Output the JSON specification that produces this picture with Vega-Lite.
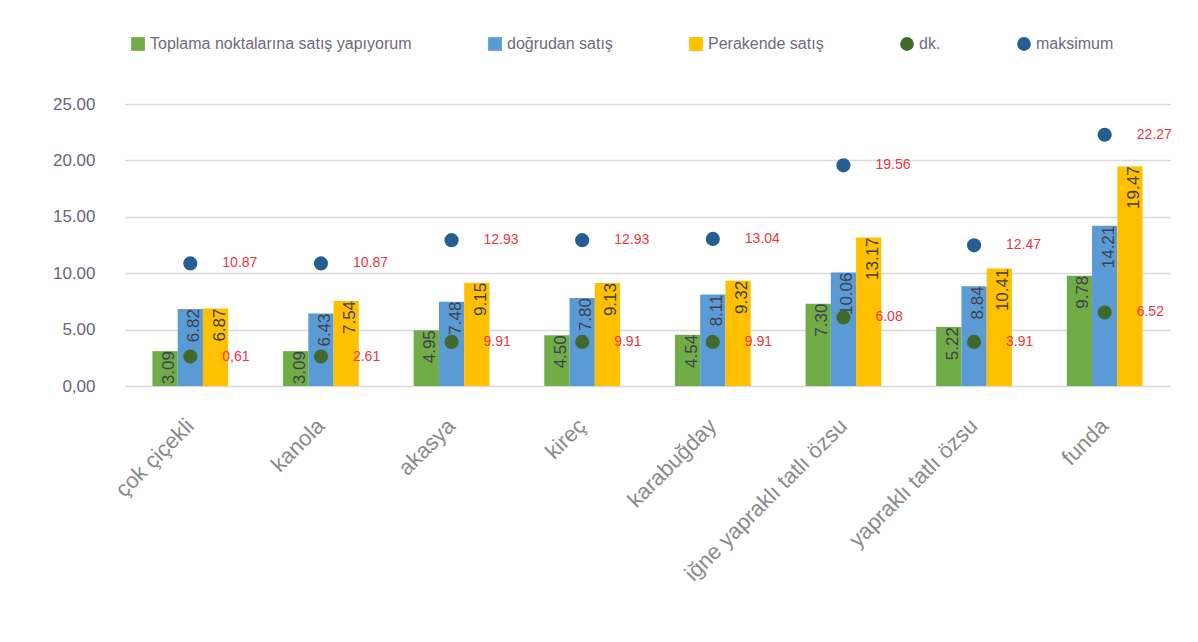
{
  "$schema": "https://vega.github.io/schema/vega-lite/v6.json",
  "width": 1045,
  "height": 282,
  "autosize": "none",
  "padding": {"left": 125, "top": 104, "right": 28, "bottom": 256},
  "background": "white",
  "config": {
    "view": {"stroke": null},
    "font": "Liberation Sans",
    "legend": {"orient": "none", "legendX": 5, "legendY": -68, "direction": "horizontal", "columns": 5, "columnPadding": 75, "labelFontSize": 16, "labelColor": "#6e6a7e", "symbolSize": 190, "title": null, "labelLimit": 400}
  },
  "datasets": {
    "bars": [
      {"cat": "çok çiçekli", "series": "Toplama noktalarına satış yapıyorum", "value": 3.09},
      {"cat": "çok çiçekli", "series": "doğrudan satış", "value": 6.82},
      {"cat": "çok çiçekli", "series": "Perakende satış", "value": 6.87},
      {"cat": "kanola", "series": "Toplama noktalarına satış yapıyorum", "value": 3.09},
      {"cat": "kanola", "series": "doğrudan satış", "value": 6.43},
      {"cat": "kanola", "series": "Perakende satış", "value": 7.54},
      {"cat": "akasya", "series": "Toplama noktalarına satış yapıyorum", "value": 4.95},
      {"cat": "akasya", "series": "doğrudan satış", "value": 7.48},
      {"cat": "akasya", "series": "Perakende satış", "value": 9.15},
      {"cat": "kireç", "series": "Toplama noktalarına satış yapıyorum", "value": 4.50},
      {"cat": "kireç", "series": "doğrudan satış", "value": 7.80},
      {"cat": "kireç", "series": "Perakende satış", "value": 9.13},
      {"cat": "karabuğday", "series": "Toplama noktalarına satış yapıyorum", "value": 4.54},
      {"cat": "karabuğday", "series": "doğrudan satış", "value": 8.11},
      {"cat": "karabuğday", "series": "Perakende satış", "value": 9.32},
      {"cat": "iğne yapraklı tatlı özsu", "series": "Toplama noktalarına satış yapıyorum", "value": 7.30},
      {"cat": "iğne yapraklı tatlı özsu", "series": "doğrudan satış", "value": 10.06},
      {"cat": "iğne yapraklı tatlı özsu", "series": "Perakende satış", "value": 13.17},
      {"cat": "yapraklı tatlı özsu", "series": "Toplama noktalarına satış yapıyorum", "value": 5.22},
      {"cat": "yapraklı tatlı özsu", "series": "doğrudan satış", "value": 8.84},
      {"cat": "yapraklı tatlı özsu", "series": "Perakende satış", "value": 10.41},
      {"cat": "funda", "series": "Toplama noktalarına satış yapıyorum", "value": 9.78},
      {"cat": "funda", "series": "doğrudan satış", "value": 14.21},
      {"cat": "funda", "series": "Perakende satış", "value": 19.47}
    ],
    "points": [
      {"cat": "çok çiçekli", "series": "dk.", "value": 2.61, "label": "0,61"},
      {"cat": "kanola", "series": "dk.", "value": 2.61, "label": "2.61"},
      {"cat": "akasya", "series": "dk.", "value": 3.91, "label": "9.91"},
      {"cat": "kireç", "series": "dk.", "value": 3.91, "label": "9.91"},
      {"cat": "karabuğday", "series": "dk.", "value": 3.91, "label": "9.91"},
      {"cat": "iğne yapraklı tatlı özsu", "series": "dk.", "value": 6.08, "label": "6.08"},
      {"cat": "yapraklı tatlı özsu", "series": "dk.", "value": 3.91, "label": "3.91"},
      {"cat": "funda", "series": "dk.", "value": 6.52, "label": "6.52"},
      {"cat": "çok çiçekli", "series": "maksimum", "value": 10.87, "label": "10.87"},
      {"cat": "kanola", "series": "maksimum", "value": 10.87, "label": "10.87"},
      {"cat": "akasya", "series": "maksimum", "value": 12.93, "label": "12.93"},
      {"cat": "kireç", "series": "maksimum", "value": 12.93, "label": "12.93"},
      {"cat": "karabuğday", "series": "maksimum", "value": 13.04, "label": "13.04"},
      {"cat": "iğne yapraklı tatlı özsu", "series": "maksimum", "value": 19.56, "label": "19.56"},
      {"cat": "yapraklı tatlı özsu", "series": "maksimum", "value": 12.47, "label": "12.47"},
      {"cat": "funda", "series": "maksimum", "value": 22.27, "label": "22.27"}
    ]
  },
  "encoding": {
    "x": {
      "field": "cat", "type": "nominal",
      "sort": ["çok çiçekli", "kanola", "akasya", "kireç", "karabuğday", "iğne yapraklı tatlı özsu", "yapraklı tatlı özsu", "funda"],
      "scale": {"paddingInner": 0.42, "paddingOuter": 0.21},
      "axis": {"title": null, "labelAngle": -45, "labelAlign": "right", "labelBaseline": "middle", "labelPadding": 36, "ticks": false, "domain": false, "labelFontSize": 22, "labelColor": "#8a8a8a", "labelLimit": 400}
    },
    "y": {
      "field": "value", "type": "quantitative",
      "scale": {"domain": [0, 25], "nice": false},
      "axis": {"title": null, "values": [0, 5, 10, 15, 20, 25], "labelExpr": "datum.value == 0 ? '0,00' : format(datum.value, '.2f')", "labelPadding": 30, "ticks": false, "domain": false, "gridColor": "#d9d9d9", "gridWidth": 1.5, "labelFontSize": 17, "labelColor": "#6e5f7e"}
    }
  },
  "layer": [
    {
      "data": {"name": "bars"},
      "mark": {"type": "bar"},
      "encoding": {
        "xOffset": {"field": "series", "type": "nominal", "sort": ["Toplama noktalarına satış yapıyorum", "doğrudan satış", "Perakende satış"], "scale": {"paddingInner": 0}},
        "color": {
          "field": "series", "type": "nominal",
          "scale": {"domain": ["Toplama noktalarına satış yapıyorum", "doğrudan satış", "Perakende satış", "dk.", "maksimum"], "range": ["#70ad47", "#5b9bd5", "#ffc000", "#43682b", "#255e91"]}
        }
      }
    },
    {
      "data": {"name": "bars"},
      "mark": {"type": "text", "angle": 270, "align": "right", "baseline": "middle", "dy": 4, "fontSize": 17, "color": "#3f3f4f"},
      "encoding": {
        "xOffset": {"field": "series", "type": "nominal", "sort": ["Toplama noktalarına satış yapıyorum", "doğrudan satış", "Perakende satış"], "scale": {"paddingInner": 0}},
        "text": {"field": "value", "type": "quantitative", "format": ".2f"}
      }
    },
    {
      "data": {"name": "points"},
      "mark": {"type": "point", "filled": true, "opacity": 1, "size": 200},
      "encoding": {
        "color": {"field": "series", "type": "nominal"},
        "shape": {"field": "series", "type": "nominal", "scale": {"domain": ["Toplama noktalarına satış yapıyorum", "doğrudan satış", "Perakende satış", "dk.", "maksimum"], "range": ["square", "square", "square", "circle", "circle"]}}
      }
    },
    {
      "data": {"name": "points"},
      "mark": {"type": "text", "align": "left", "baseline": "middle", "dx": 32, "fontSize": 14, "color": "#e8383d"},
      "encoding": {
        "text": {"field": "label", "type": "nominal"}
      }
    }
  ]
}
